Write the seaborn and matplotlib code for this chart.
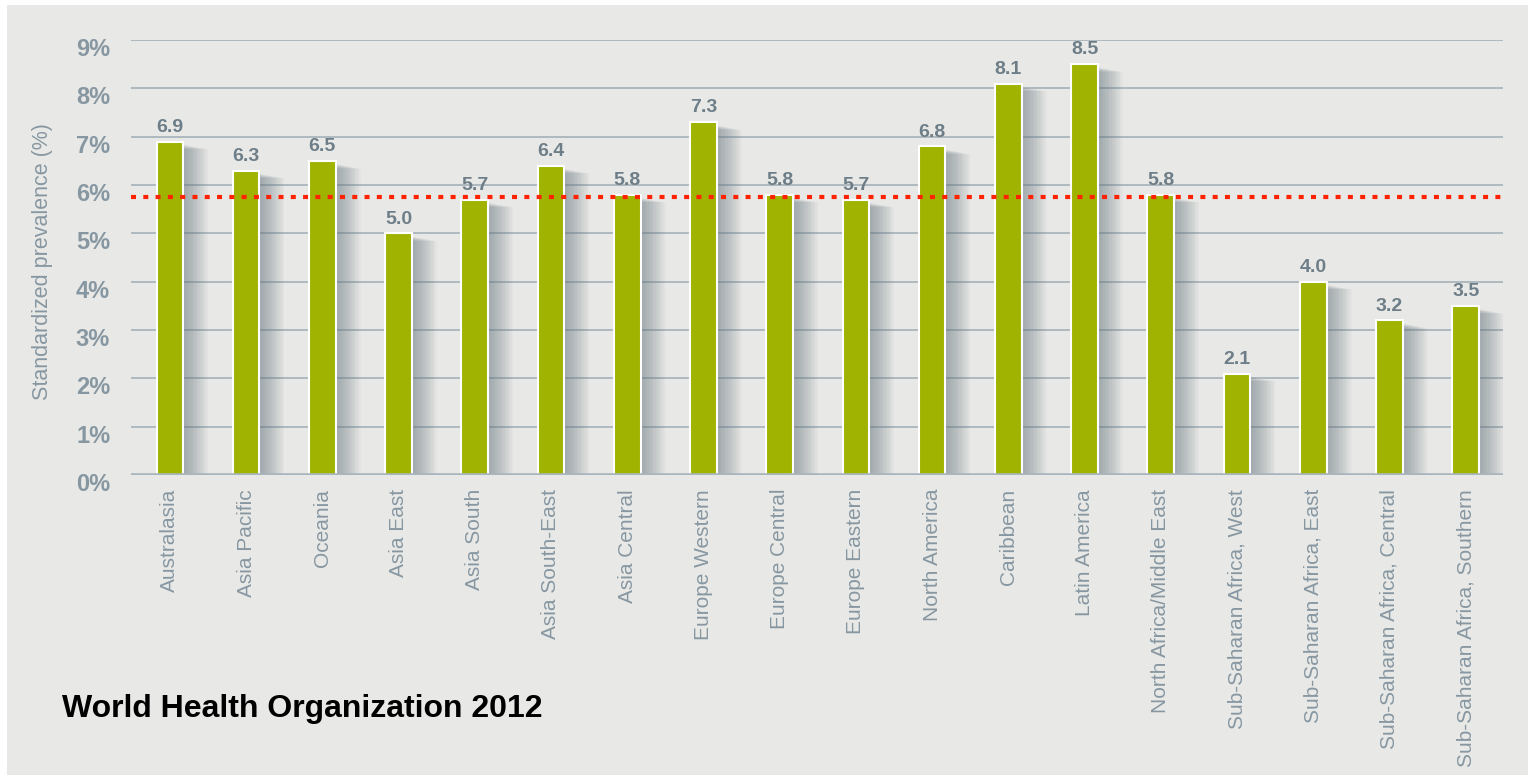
import matplotlib
matplotlib.use("Agg")
import matplotlib.pyplot as plt
import matplotlib.patheffects as pe
import matplotlib.transforms as mtransforms
from matplotlib.patches import Rectangle
import seaborn as sns
import pandas as pd

regions = [
    "Australasia", "Asia Pacific", "Oceania", "Asia East", "Asia South",
    "Asia South-East", "Asia Central", "Europe Western", "Europe Central",
    "Europe Eastern", "North America", "Caribbean", "Latin America",
    "North Africa/Middle East", "Sub-Saharan Africa, West",
    "Sub-Saharan Africa, East", "Sub-Saharan Africa, Central",
    "Sub-Saharan Africa, Southern",
]
prevalence = [6.9, 6.3, 6.5, 5.0, 5.7, 6.4, 5.8, 7.3, 5.8, 5.7, 6.8, 8.1, 8.5,
              5.8, 2.1, 4.0, 3.2, 3.5]
global_average = 5.75
y_ticks = [0, 1, 2, 3, 4, 5, 6, 7, 8, 9]
y_tick_labels = [f"{t}%" for t in y_ticks]
y_title = "Standardized prevalence (%)"
source_note = "World Health Organization 2012"

BG = "#e8e9e6"
BAR = "#9fb300"
GRID = "#a9b5bd"
TICK = "#8797a2"
VALUE = "#6e7e88"
SANS = ["Liberation Sans", "DejaVu Sans"]

df = pd.DataFrame({"region": regions, "prevalence": prevalence})

sns.set_theme(style="white")
plt.rcParams["font.family"] = SANS
fig = plt.figure(figsize=(15.28, 7.75), dpi=100, facecolor="white")
fig.patches.append(Rectangle((7 / 1528, 0), 1 - 7 / 1528, 1 - 5 / 775,
                             transform=fig.transFigure, facecolor=BG,
                             edgecolor="none", zorder=-10))

ax = fig.add_axes([131 / 1528, 1 - 475 / 775, (1503 - 131) / 1528, (475 - 40) / 775])
ax.set_facecolor("none")

sns.barplot(data=df, x="region", y="prevalence", color=BAR, width=0.35,
            saturation=1, edgecolor="white", linewidth=1.5, ax=ax, zorder=3)

# soft drop shadow to the right of each bar, fading outward
shadow = [pe.SimplePatchShadow(offset=(d, -2 - 0.2 * d), shadow_rgbFace="#6a7a83", alpha=0.04)
          for d in range(18, 0, -1)]
for bar in ax.patches:
    bar.set_path_effects(shadow + [pe.Normal()])

for bar, v in zip(ax.patches, prevalence):
    ax.text(bar.get_x() + bar.get_width() / 2, v + 0.12, f"{v:.1f}",
            ha="center", va="bottom", fontsize=14, fontweight="bold",
            color=VALUE, zorder=5)

ax.set_xlim(-0.51, len(regions) - 0.51)
ax.set_ylim(0, 9)
ax.set_yticks(y_ticks)
ax.set_yticklabels(y_tick_labels)
for t in y_ticks[1:]:
    ax.axhline(t, color=GRID, lw=1.3, zorder=1)
ax.axhline(0, color=GRID, lw=2.6, zorder=4)

ax.axhline(global_average, color="#ff2200", lw=3.0, linestyle=(0, (1.2, 1.75)),
           dash_capstyle="butt", zorder=6)

for s in ax.spines.values():
    s.set_visible(False)
ax.tick_params(axis="y", length=0, pad=15, labelsize=17, labelcolor=TICK)
ax.tick_params(axis="x", length=0, pad=10, labelsize=15, labelcolor=TICK)
down = mtransforms.ScaledTranslation(0, -7 / 100, fig.dpi_scale_trans)
for lbl in ax.get_yticklabels():
    lbl.set_fontweight("bold")
    lbl.set_transform(lbl.get_transform() + down)
for lbl in ax.get_xticklabels():
    lbl.set_rotation(90)
    lbl.set_va("top")
    lbl.set_ha("center")

ax.set_xlabel("")
ax.set_ylabel(y_title, fontsize=15.5, color=TICK)
ax.yaxis.set_label_coords(-0.057, 0.49)

fig.text(62 / 1528, 1 - 709 / 775, source_note, fontsize=23, fontweight="bold",
         color="black", ha="left", va="center")

fig.savefig("out.png", dpi=100, facecolor="white")
